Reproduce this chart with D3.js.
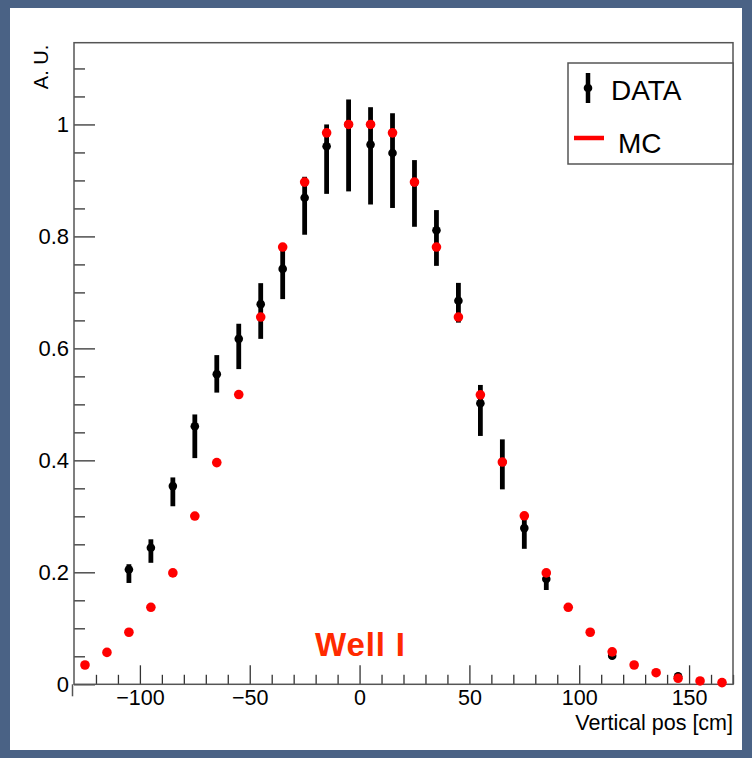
<!DOCTYPE html>
<html>
<head>
<meta charset="utf-8">
<script src="https://cdn.jsdelivr.net/npm/d3@7"></script>
<style>
  html, body { margin: 0; padding: 0; background: #4a6285; }
  svg { display: block; }
  text { font-family: "Liberation Sans", Arial, Helvetica, sans-serif; }
</style>
</head>
<body>
<svg id="chart" width="752" height="758"></svg>
<script>
// ---- data ----
const mcX = [-125,-115,-105,-95,-85,-75,-65,-55,-45,-35,-25,-15,-5,5,15,25,35,45,55,65,75,85,95,105,115,125,135,145,155,165];
const mcY = [0.0345,0.057,0.093,0.1375,0.199,0.3005,0.396,0.5175,0.656,0.781,0.897,0.985,1.0,1.0,0.985,0.897,0.781,0.656,0.517,0.397,0.301,0.199,0.1375,0.093,0.058,0.0345,0.0207,0.0107,0.006,0.003];

const dataX   = [-105,-95,-85,-75,-65,-55,-45,-35,-25,-15,-5,5,15,25,35,45,55,65,75,85,115,145];
const dataY   = [0.205,0.244,0.354,0.461,0.554,0.617,0.679,0.742,0.869,0.961,1.0,0.964,0.949,0.897,0.811,0.685,0.502,0.397,0.279,0.188,0.051,0.0143];
const dataErrHi = [0.0095,0.015,0.0155,0.021,0.034,0.027,0.0375,0.044,0.0375,0.039,0.0446,0.0668,0.071,0.0393,0.036,0.032,0.0327,0.0405,0.0148,0.007,0.003,0.003];
const dataErrLo = [0.024,0.027,0.036,0.057,0.033,0.054,0.062,0.054,0.066,0.085,0.1196,0.107,0.0982,0.0798,0.0636,0.039,0.0584,0.0488,0.037,0.0196,0.004,0.003];

const xMajorTicks = [-100,-50,0,50,100,150];
const xTickLabels = ["\u2212100","\u221250","0","50","100","150"];
const yMajorTicks = [0,0.2,0.4,0.6,0.8,1];
const yTickLabels = ["0","0.2","0.4","0.6","0.8","1"];

const xDomain = [-130,170];
const yDomain = [0,1.146];

// ---- layout ----
const svg = d3.select("#chart");
const L = 74, R = 733, T = 42.7, B = 684.3;

const x = d3.scaleLinear().domain(xDomain).range([L, R]);
const y = d3.scaleLinear().domain(yDomain).range([B, T]);

// white slide panel
svg.append("rect").attr("x",10).attr("y",8).attr("width",732).attr("height",742).attr("fill","#ffffff");

// x minor ticks
const xMinor = d3.range(-120, 171, 10).filter(v => xMajorTicks.indexOf(v) < 0);
svg.append("g").attr("transform",`translate(0,${B})`)
  .call(d3.axisBottom(x).tickValues(xMinor).tickSize(-9.5).tickFormat(""))
  .call(g => g.select(".domain").remove())
  .call(g => g.selectAll("line").attr("stroke","#333").attr("stroke-width",1.3));

// x major ticks
svg.append("g").attr("transform",`translate(0,${B})`)
  .call(d3.axisBottom(x).tickValues(xMajorTicks).tickSize(-19).tickPadding(5)
        .tickFormat((d,i) => xTickLabels[i]))
  .call(g => g.select(".domain").remove())
  .call(g => g.selectAll("line").attr("stroke","#333").attr("stroke-width",1.3))
  .call(g => g.selectAll("text").attr("font-size",21.5).attr("fill","#000")
        .attr("font-family","Liberation Sans, Arial, sans-serif"));

// y minor ticks
const yMinor = d3.range(0.05, 1.12, 0.05).map(v => +v.toFixed(2)).filter(v => yMajorTicks.indexOf(v) < 0);
svg.append("g").attr("transform",`translate(${L},0)`)
  .call(d3.axisLeft(y).tickValues(yMinor).tickSize(-11).tickFormat(""))
  .call(g => g.select(".domain").remove())
  .call(g => g.selectAll("line").attr("stroke","#333").attr("stroke-width",1.3));

// y major ticks
svg.append("g").attr("transform",`translate(${L},0)`)
  .call(d3.axisLeft(y).tickValues(yMajorTicks).tickSize(-21).tickPadding(5)
        .tickFormat((d,i) => yTickLabels[i]))
  .call(g => g.select(".domain").remove())
  .call(g => g.selectAll("line").attr("stroke","#333").attr("stroke-width",1.3))
  .call(g => g.selectAll("text").attr("font-size",22).attr("fill","#000")
        .attr("font-family","Liberation Sans, Arial, sans-serif"));

// frame
svg.append("rect").attr("x",L).attr("y",T).attr("width",R-L).attr("height",B-T)
  .attr("fill","none").attr("stroke","#555").attr("stroke-width",1.5);
// small y-axis stub below the frame (ROOT artefact)
svg.append("line").attr("x1",L-1.5).attr("x2",L-1.5).attr("y1",B).attr("y2",B+12)
  .attr("stroke","#555").attr("stroke-width",1.5);

// axis titles
svg.append("text").attr("transform",`translate(48,${T+2}) rotate(-90)`)
  .attr("text-anchor","end").attr("font-size",20).attr("fill","#000").text("A. U.");
svg.append("text").attr("x",R).attr("y",730).attr("text-anchor","end")
  .attr("font-size",21.5).attr("fill","#000").text("Vertical pos [cm]");

// DATA error bars
const dataIdx = d3.range(dataX.length);
svg.append("g").selectAll("line").data(dataIdx).join("line")
  .attr("x1", i => x(dataX[i])).attr("x2", i => x(dataX[i]))
  .attr("y1", i => y(dataY[i] + dataErrHi[i])).attr("y2", i => y(dataY[i] - dataErrLo[i]))
  .attr("stroke","#000").attr("stroke-width",4.8);
svg.append("g").selectAll("circle").data(dataIdx).join("circle")
  .attr("cx", i => x(dataX[i])).attr("cy", i => y(dataY[i])).attr("r",4.3).attr("fill","#000");

// MC points
svg.append("g").selectAll("circle").data(d3.range(mcX.length)).join("circle")
  .attr("cx", i => x(mcX[i])).attr("cy", i => y(mcY[i])).attr("r",4.8).attr("fill","#ff0000");

// Well I label
svg.append("text").attr("x",315).attr("y",656)
  .attr("font-family","Lato, 'Open Sans', sans-serif").attr("font-weight","900")
  .attr("font-size",33).attr("fill","#ff2a00")
  .attr("textLength",90).attr("lengthAdjust","spacing").text("Well I");

// legend
const lg = svg.append("g");
lg.append("rect").attr("x",568).attr("y",63).attr("width",R-568).attr("height",101)
  .attr("fill","#fff").attr("stroke","#555").attr("stroke-width",1.5);
lg.append("line").attr("x1",588).attr("x2",588).attr("y1",73).attr("y2",103)
  .attr("stroke","#000").attr("stroke-width",4.5);
lg.append("circle").attr("cx",588).attr("cy",88).attr("r",4.3).attr("fill","#000");
lg.append("text").attr("x",611).attr("y",100).attr("font-size",28).attr("fill","#000").text("DATA");
lg.append("line").attr("x1",574).attr("x2",604).attr("y1",138).attr("y2",138)
  .attr("stroke","#ff0000").attr("stroke-width",4.5);
lg.append("text").attr("x",618).attr("y",153).attr("font-size",28).attr("fill","#000").text("MC");
</script>
</body>
</html>
